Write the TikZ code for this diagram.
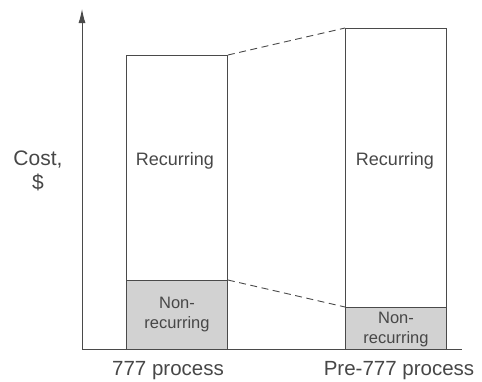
\documentclass[tikz,border=0pt]{standalone}
\usepackage{fontspec}
\setmainfont{Liberation Sans}
\usetikzlibrary{arrows.meta}
\definecolor{linegrey}{HTML}{4A4A4A}
\definecolor{barfill}{HTML}{D2D2D2}
\begin{document}
\begin{tikzpicture}
			[x=1pt,y=-1pt,>={Latex[length=14pt,width=7pt]},
			bar/.style={draw=linegrey,line width=0.9pt,minimum width=101pt,inner sep=0pt,anchor=north west},
			lbl/.style={font=\fontsize{18}{22}\selectfont,text=black!72,align=center},
			link/.style={linegrey,line width=0.9pt,dash pattern=on 7pt off 4.5pt}]
			\useasboundingbox (0,0) rectangle (482,381);
			\coordinate (o) at (82,349);
			\coordinate (ytop) at (82,9);
			\coordinate (xend) at (462,349);
			% bars
			\node[bar,name=recA,minimum height=225pt]at(126,55){};
			\node[bar,name=nonA,fill=barfill,minimum height=69pt]at(126,280){};
			\node[bar,name=recB,minimum height=279pt]at(345,28){};
			\node[bar,name=nonB,fill=barfill,minimum height=42pt]at(345,307){};
			% axes
			\draw[->,linegrey,line width=1pt] (o)--(ytop);
			\draw[linegrey,line width=1pt] (o)--(xend);
			% dashed links
			\draw[link] (recA.north east)--(recB.north west);
			\draw[link] (nonA.north east)--(nonB.north west);
			% labels
			\node[lbl,name=costlbl,font=\fontsize{21}{24}\selectfont]at(38,171){Cost,\\\$};
			\node[lbl,name=recAlbl]at(175,161){Recurring};
			\node[lbl,name=recBlbl]at(395,161){Recurring};
			\node[lbl,name=nonAlbl,font=\fontsize{16.5}{20}\selectfont]at(177,315){Non-\\recurring};
			\node[lbl,name=nonBlbl,font=\fontsize{16.5}{20}\selectfont]at(396,330){Non-\\recurring};
			\node[lbl,name=procA,font=\fontsize{20.5}{24}\selectfont]at(168,371){777 process};
			\node[lbl,name=procB,font=\fontsize{20.5}{24}\selectfont]at(399,371){Pre-777 process};
		\end{tikzpicture}
\end{document}
